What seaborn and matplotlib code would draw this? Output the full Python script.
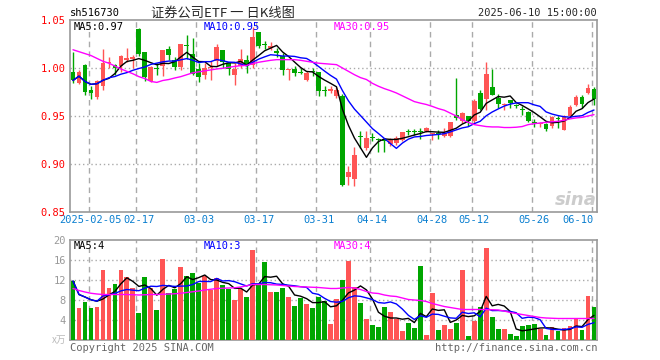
import numpy as np
import pandas as pd
import matplotlib
matplotlib.use('Agg')
import matplotlib.pyplot as plt
import seaborn as sns

sns.set_style('white')
plt.rcParams['font.family'] = ['DejaVu Sans Mono', 'Noto Sans CJK SC']

# trading days shown (month -> days)
trade_days = {
    '01': [23, 24, 27],
    '02': [5, 6, 7, 10, 11, 12, 13, 14, 17, 18, 19, 20, 21, 24, 25, 26, 27, 28],
    '03': [3, 4, 5, 6, 7, 10, 11, 12, 13, 14, 17, 18, 19, 20, 21, 24, 25, 26, 27, 28, 31],
    '04': [1, 2, 3, 7, 8, 9, 10, 11, 14, 15, 16, 17, 18, 21, 22, 23, 24, 25, 28, 29, 30],
    '05': [6, 7, 8, 9, 12, 13, 14, 15, 16, 19, 20, 21, 22, 23, 26, 27, 28, 29, 30],
    '06': [3, 4, 5, 6, 9, 10],
}
dates = [f'{m}-{d:02d}' for m, days in trade_days.items() for d in days]
tick_dates = ['02-05', '02-17', '03-03', '03-17', '03-31', '04-14', '04-28', '05-12', '05-26', '06-10']
tick_labels = ['2025-02-05', '02-17', '03-03', '03-17', '03-31', '04-14', '04-28', '05-12', '05-26', '06-10']

open_ = [0.9955, 0.984, 1.0035, 0.977, 0.970, 0.981, 1.005, 1.003, 1.002, 1.008,
         1.009, 1.041, 1.017, 0.986, 1.000, 1.0017, 1.020, 1.0087, 1.0007, 1.024,
         1.015, 0.999, 0.993, 1.000, 1.0076, 1.019, 1.005, 0.993, 1.002, 1.008,
         1.0035, 1.038, 1.025, 1.021, 1.0175, 1.012, 0.998, 0.999, 0.996, 0.988,
         0.996, 0.9955, 0.977, 0.976, 0.9712, 0.9705, 0.8865, 0.8844, 0.929, 0.9167,
         0.928, 0.926, 0.926, 0.921, 0.922, 0.925, 0.934, 0.934, 0.934, 0.934,
         0.9315, 0.932, 0.929, 0.9289, 0.9514, 0.9452, 0.9497, 0.9452, 0.9743, 0.9681,
         0.9802, 0.9691, 0.9618, 0.9663, 0.961, 0.957, 0.9545, 0.944, 0.9413, 0.942,
         0.9392, 0.9475, 0.9358, 0.9497, 0.9611, 0.9694, 0.9743, 0.9777]
close = [0.987, 0.996, 0.975, 0.974, 0.986, 1.005, 1.006, 1.000, 1.013, 1.010,
         1.011, 1.015, 0.9906, 1.001, 0.999, 1.019, 1.0135, 1.0007, 1.0253, 1.023,
         0.994, 0.9906, 1.000, 1.001, 1.0215, 1.006, 0.999, 0.999, 1.009, 1.002,
         1.032, 1.0226, 1.024, 1.023, 1.016, 0.998, 0.999, 0.995, 0.995, 0.995,
         0.9955, 0.9757, 0.976, 0.978, 0.977, 0.878, 0.892, 0.9098, 0.928, 0.927,
         0.927, 0.925, 0.924, 0.925, 0.927, 0.933, 0.933, 0.933, 0.933, 0.937,
         0.932, 0.931, 0.932, 0.9434, 0.948, 0.9535, 0.9452, 0.9653, 0.9576, 0.9941,
         0.9715, 0.9628, 0.962, 0.9639, 0.960, 0.9565, 0.9448, 0.943, 0.9415, 0.9365,
         0.949, 0.9472, 0.9497, 0.9594, 0.9694, 0.9625, 0.979, 0.968]
high = [1.017, 0.998, 1.004, 0.981, 0.988, 1.020, 1.011, 1.004, 1.014, 1.021,
        1.014, 1.042, 1.017, 1.002, 1.005, 1.019, 1.023, 1.011, 1.0253, 1.034,
        1.031, 1.005, 1.005, 1.007, 1.025, 1.019, 1.006, 1.005, 1.020, 1.014,
        1.043, 1.038, 1.028, 1.027, 1.021, 1.0156, 0.999, 1.002, 1.000, 0.9965,
        1.000, 0.9955, 0.981, 0.981, 0.980, 0.973, 0.8976, 0.918, 0.934, 0.934,
        0.932, 0.927, 0.927, 0.927, 0.929, 0.933, 0.936, 0.936, 0.937, 0.939,
        0.9325, 0.935, 0.937, 0.944, 0.990, 0.954, 0.9497, 0.968, 0.977, 1.006,
        0.999, 0.973, 0.964, 0.9663, 0.963, 0.960, 0.9552, 0.9465, 0.9434, 0.9427,
        0.950, 0.950, 0.951, 0.961, 0.9715, 0.9715, 0.9835, 0.980]
low = [0.984, 0.983, 0.972, 0.968, 0.968, 0.977, 1.000, 0.993, 0.996, 1.006,
       1.000, 1.012, 0.986, 0.985, 0.993, 0.992, 1.008, 0.998, 0.998, 1.009,
       0.993, 0.985, 0.9885, 0.988, 1.0017, 1.000, 0.993, 0.982, 1.000, 0.995,
       1.000, 1.021, 1.020, 1.019, 1.0115, 0.993, 0.988, 0.992, 0.9935, 0.986,
       0.992, 0.971, 0.971, 0.974, 0.969, 0.877, 0.878, 0.877, 0.917, 0.915,
       0.924, 0.912, 0.912, 0.919, 0.920, 0.924, 0.930, 0.930, 0.926, 0.933,
       0.925, 0.926, 0.928, 0.9285, 0.946, 0.943, 0.940, 0.943, 0.956, 0.956,
       0.9715, 0.958, 0.956, 0.958, 0.958, 0.951, 0.9435, 0.9383, 0.9383, 0.934,
       0.9375, 0.9375, 0.935, 0.949, 0.960, 0.958, 0.9733, 0.961]
# price MA30 (needs history before the window)
ma30_price = [1.019, 1.017, 1.015, 1.013, 1.010, 1.007, 1.005, 1.002, 0.999, 0.9965,
              0.994, 0.991, 0.989, 0.986, 0.985, 0.987, 0.988, 0.9896, 0.991, 0.993,
              0.995, 0.996, 0.997, 0.998, 0.999, 0.9997, 1.0007, 1.0017, 1.0024, 1.0027,
              1.0045, 1.006, 1.007, 1.008, 1.0087, 1.0087, 1.0087, 1.0087, 1.008, 1.007,
              1.006, 1.005, 1.0045, 1.004, 1.0035, 1.000, 0.9965, 0.993, 0.990, 0.988,
              0.984, 0.981, 0.9785, 0.9764, 0.974, 0.971, 0.968, 0.965, 0.9634, 0.962,
              0.960, 0.9577, 0.956, 0.953, 0.950, 0.946, 0.9434, 0.941, 0.940, 0.939,
              0.9386, 0.9386, 0.938, 0.938, 0.9383, 0.939, 0.941, 0.942, 0.9427, 0.9434,
              0.944, 0.9445, 0.9455, 0.947, 0.948, 0.9486, 0.950, 0.9514]

volume = [11.8, 6.4, 7.6, 6.4, 6.6, 14.0, 10.4, 11.2, 14.0, 12.6,
          10.4, 5.4, 12.6, 10.4, 6.0, 16.2, 9.4, 10.2, 14.6, 12.8,
          13.4, 11.4, 12.8, 10.0, 12.4, 11.0, 10.2, 8.0, 10.2, 8.6,
          18.0, 11.0, 15.6, 9.6, 9.6, 10.4, 8.6, 6.8, 8.4, 7.2,
          6.4, 8.6, 7.8, 3.2, 8.2, 12.0, 15.9, 10.6, 7.4, 4.2,
          3.0, 2.6, 6.6, 5.6, 4.2, 1.8, 3.4, 2.4, 14.8, 1.0,
          9.4, 2.0, 3.0, 2.2, 3.4, 14.0, 0.8, 3.8, 6.6, 18.4,
          4.6, 2.2, 2.2, 1.2, 0.8, 2.8, 3.0, 3.2, 2.2, 1.0,
          2.6, 1.8, 2.4, 2.8, 4.4, 2.0, 8.8, 6.6]
ma30_vol = [10.3, 9.9, 9.6, 9.35, 9.2, 9.1, 9.1, 9.1, 9.1, 9.1,
            9.05, 9.0, 9.05, 9.1, 9.1, 9.15, 9.2, 9.25, 9.35, 9.5,
            9.65, 9.8, 10.0, 10.15, 10.3, 10.35, 10.4, 10.45, 10.6, 10.85,
            11.1, 11.1, 11.1, 11.05, 11.0, 10.9, 10.8, 10.7, 10.65, 10.6,
            10.55, 10.5, 10.4, 10.3, 10.3, 10.4, 10.5, 10.4, 10.1, 9.7,
            9.4, 9.3, 9.0, 8.8, 8.7, 8.4, 8.1, 8.0, 7.9, 7.7,
            7.3, 7.0, 6.7, 6.5, 6.3, 6.1, 6.1, 6.1, 6.1, 6.1,
            6.05, 6.0, 5.8, 5.5, 5.3, 5.1, 4.9, 4.7, 4.5, 4.4,
            4.35, 4.3, 4.3, 4.3, 4.3, 4.3, 4.3, 4.3]

RED, GREEN, GRID = '#ff5555', '#00a600', '#aaaaaa'

df = pd.DataFrame({'date': dates, 'open': open_, 'close': close, 'high': high,
                   'low': low, 'vol': volume, 'ma30': ma30_price, 'vma30': ma30_vol})
df['i'] = np.arange(len(df))
df['dir'] = np.where(df['close'] >= df['open'], 'up', 'down')
df['ma5'] = df['close'].rolling(5, min_periods=1).mean()
df['ma10'] = df['close'].rolling(10, min_periods=1).mean()
df['vma5'] = df['vol'].rolling(5, min_periods=1).mean()
df['vma10'] = df['vol'].rolling(10, min_periods=1).mean()
cols = np.where(df['dir'] == 'up', RED, GREEN)
tick_pos = [dates.index(d) for d in tick_dates]

W, H = 660, 360
fig = plt.figure(figsize=(6.6, 3.6), dpi=100)
ax1 = fig.add_axes([70 / W, 1 - 212 / H, 527 / W, 192 / H])
ax2 = fig.add_axes([70 / W, 1 - 340 / H, 527 / W, 100 / H])

# candles
body_lo = np.minimum(df['open'], df['close'])
body_h = np.maximum(np.abs(df['close'] - df['open']), 0.0011)
ax1.vlines(df['i'], df['low'], df['high'], colors=cols, lw=1, zorder=3)
ax1.bar(df['i'], body_h, bottom=body_lo, width=0.8, color=cols, linewidth=0, zorder=4)
sns.lineplot(data=df, x='i', y='ma5', color='black', lw=1, ax=ax1, zorder=5)
sns.lineplot(data=df, x='i', y='ma10', color='#0000ff', lw=1, ax=ax1, zorder=5)
sns.lineplot(data=df, x='i', y='ma30', color='#ff00ff', lw=1, ax=ax1, zorder=5)

# volume
sns.barplot(data=df, x='i', y='vol', hue='dir', palette={'up': RED, 'down': GREEN},
            native_scale=True, width=0.8, saturation=1, linewidth=0, errorbar=None,
            legend=False, dodge=False, ax=ax2, zorder=3)
sns.lineplot(data=df, x='i', y='vma5', color='black', lw=1, ax=ax2, zorder=5)
sns.lineplot(data=df, x='i', y='vma10', color='#0000ff', lw=1, ax=ax2, zorder=5)
sns.lineplot(data=df, x='i', y='vma30', color='#ff00ff', lw=1, ax=ax2, zorder=5)

for ax in (ax1, ax2):
    ax.set_xlim(-0.5, len(df) - 0.5)
    ax.set_xlabel('')
    ax.set_ylabel('')
    for s in ax.spines.values():
        s.set_color('#999999')
        s.set_linewidth(1.2)
    for p in tick_pos:
        ax.axvline(p - 0.4, color=GRID, lw=1, ls=(0, (4, 3)), zorder=1)
    ax.tick_params(length=0, pad=3)

ax1.set_ylim(0.85, 1.05)
yt = [0.85, 0.90, 0.95, 1.00, 1.05]
ax1.set_yticks(yt)
ax1.set_yticklabels([f'{v:.2f}' for v in yt], color='red', fontsize=7.5)
for v in yt[1:-1]:
    ax1.axhline(v, color=GRID, lw=1, ls=(0, (1, 2)), zorder=1)
ax1.set_xticks(tick_pos)
ax1.set_xticklabels(tick_labels, color='#0a7fd0', fontsize=7.5)
ax1.tick_params(axis='x', pad=2)
ax1.get_xticklabels()[-1].set_horizontalalignment('right')
ax1.get_xticklabels()[-1].set_x(tick_pos[-1] + 0.5)

ax2.set_ylim(0, 20)
vt = [4, 8, 12, 16, 20]
ax2.set_yticks(vt)
ax2.set_yticklabels([str(v) for v in vt], color='#999999', fontsize=7.5)
for v in vt[:-1]:
    ax2.axhline(v, color=GRID, lw=1, ls=(0, (1, 2)), zorder=1)
ax2.set_xticks([])


def ftext(x, y, s, **kw):
    fig.text(x / W, 1 - y / H, s, va='center', **kw)


ftext(70, 13, 'sh516730', fontsize=7.5, color='black')
ftext(223, 13, '证券公司ETF 一 日K线图', fontsize=9.5, ha='center',
      family=['Noto Sans CJK SC', 'DejaVu Sans'])
ftext(597, 13, '2025-06-10 15:00:00', fontsize=7.5, ha='right')
ftext(74, 27, 'MA5:0.97', fontsize=7.5, color='black')
ftext(204, 27, 'MA10:0.95', fontsize=7.5, color='#0000ff')
ftext(334, 27, 'MA30:0.95', fontsize=7.5, color='#ff00ff')
ftext(74, 246, 'MA5:4', fontsize=7.5, color='black')
ftext(204, 246, 'MA10:3', fontsize=7.5, color='#0000ff')
ftext(334, 246, 'MA30:4', fontsize=7.5, color='#ff00ff')
ftext(52, 340, 'x万', fontsize=7, color='#bbbbbb', family=['Noto Sans CJK SC', 'DejaVu Sans'])
ftext(70, 348, 'Copyright 2025 SINA.COM', fontsize=7.5, color='#666666')
ftext(597, 348, 'http://finance.sina.com.cn', fontsize=7.5, color='#666666', ha='right')
ftext(576, 200, 'sina', fontsize=13, color='#cccccc', ha='center', style='italic',
      weight='bold', family='DejaVu Sans')

fig.savefig('out.png', dpi=100)
